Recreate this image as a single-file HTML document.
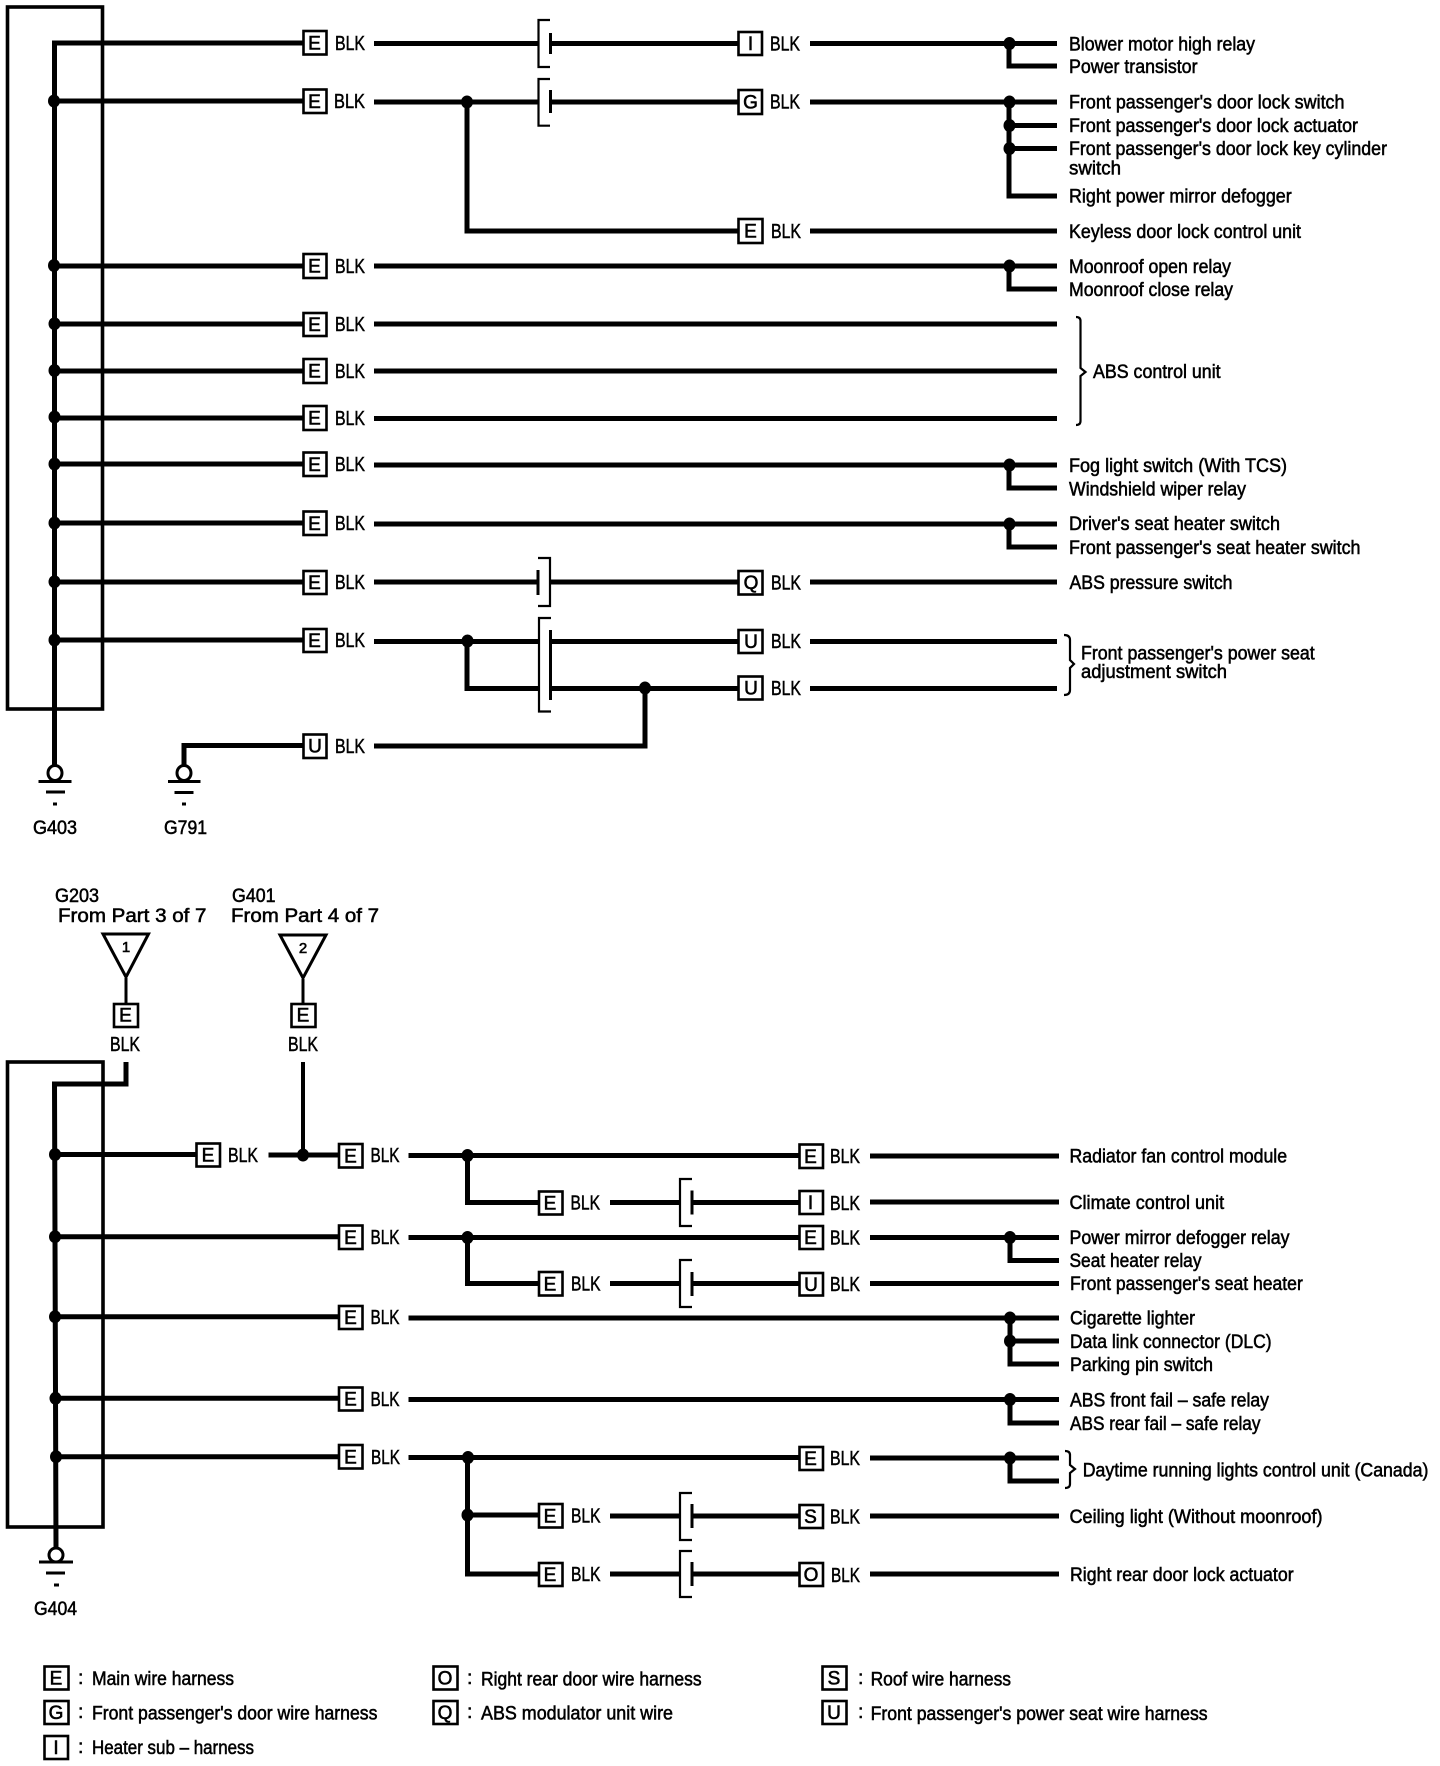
<!DOCTYPE html>
<html><head><meta charset="utf-8"><title>Wiring diagram</title>
<style>
html,body{margin:0;padding:0;background:#fff}
svg{display:block}
text{font-family:"Liberation Sans",sans-serif;fill:#000}
.l{font-size:19.5px;stroke:#000;stroke-width:.55}
.b{font-size:20.5px;stroke:#000;stroke-width:.5}
.c{font-size:19px;text-anchor:middle;stroke:#000;stroke-width:.6}
.w{fill:none;stroke:#000;stroke-width:5}
.t{fill:none;stroke:#000;stroke-width:3}
.e{fill:none;stroke:#000;stroke-width:3.6}
.n{fill:none;stroke:#000;stroke-width:2.2}
.x{fill:#fff;stroke:#000;stroke-width:2.6}
</style></head><body>
<svg xmlns="http://www.w3.org/2000/svg" width="1440" height="1766" viewBox="0 0 1440 1766">
<rect width="1440" height="1766" fill="#fff"/>
<!-- enclosures -->
<rect class="e" x="7.5" y="7" width="95" height="702"/>
<rect class="e" x="7.5" y="1062" width="95.5" height="465"/>
<!-- TOP wires -->
<path class="w" d="M303 43H54.5V765M54.5 101H303M54.5 266H303M54.5 324H303M54.5 371H303M54.5 418H303M54.5 464H303M54.5 523H303M54.5 582H303M54.5 640H303"/>
<path class="w" d="M374 43.5H538M551 43.5H738M810 43.5H1057M1009 43.5V66H1057"/>
<path class="w" d="M374 102H538M551 102H738M810 102H1057M1009 102V196H1057M1009 125.5H1057M1009 148.5H1057M467 102V231H738M810 231H1057"/>
<path class="w" d="M374 266H1057M1009 266V289H1057M374 324H1057M374 371H1057M374 418.5H1057M374 465H1057M1009 465V488H1057M374 524H1057M1009 524V547H1057"/>
<path class="w" d="M374 582H538M551 582H738M810 582H1057"/>
<path class="w" d="M374 641.5H538M551 641.5H738M810 641.5H1057M467 641.5V688.5H538M551 688.5H738M810 688.5H1057M374 746H645V688.5M303 745.5H184V765"/>
<!-- TOP brackets -->
<path class="n" d="M550 20H538.5V67H550M550 79H538.5V125.7H550"/>
<path class="n" d="M538 558H550V606H538M551 618H539V711.5H551"/>
<path class="t" d="M550.5 33V54M550.5 90V113M538 570V595M550.5 630V700"/>
<!-- TOP dots -->
<g fill="#000">
<ellipse cx="54" cy="101" rx="6" ry="6.5"/><ellipse cx="54" cy="265.5" rx="6" ry="6.5"/><ellipse cx="54.5" cy="323.7" rx="6" ry="6.5"/><ellipse cx="54.5" cy="370.5" rx="6" ry="6.5"/><ellipse cx="54.5" cy="417" rx="6" ry="6.5"/><ellipse cx="54.5" cy="464" rx="6" ry="6.5"/><ellipse cx="54.5" cy="523" rx="6" ry="6.5"/><ellipse cx="54.5" cy="581.7" rx="6" ry="6.5"/><ellipse cx="54.5" cy="640" rx="6" ry="6.5"/>
<ellipse cx="467" cy="102" rx="6" ry="6.5"/><ellipse cx="467.5" cy="641" rx="6" ry="6.5"/><ellipse cx="645" cy="688" rx="6" ry="6.5"/>
<ellipse cx="1009.5" cy="43.5" rx="6" ry="6.5"/><ellipse cx="1009.5" cy="102" rx="6" ry="6.5"/><ellipse cx="1009.5" cy="125.5" rx="6" ry="6.5"/><ellipse cx="1009.5" cy="148.5" rx="6" ry="6.5"/><ellipse cx="1009.5" cy="266" rx="6" ry="6.5"/><ellipse cx="1009.5" cy="465" rx="6" ry="6.5"/><ellipse cx="1009.5" cy="524" rx="6" ry="6.5"/>
</g>
<!-- grounds -->
<ellipse class="t" cx="55" cy="773" rx="7" ry="7.5" style="fill:#fff"/>
<path class="t" d="M38.5 781.5H71.5M46 792H65M53 804H57"/>
<ellipse class="t" cx="184" cy="773" rx="7" ry="7.5" style="fill:#fff"/>
<path class="t" d="M168 781.5H200.5M174.5 792.5H193.5M182 804H186"/>
<text class="l" x="33" y="834" textLength="44" lengthAdjust="spacingAndGlyphs">G403</text>
<text class="l" x="164" y="834" textLength="43" lengthAdjust="spacingAndGlyphs">G791</text>
<!-- TOP boxes col A -->
<g>
<rect class="x" x="303.5" y="31" width="23" height="23.5"/><text class="c" x="314.5" y="49.5">E</text><text class="b" x="335" y="50" textLength="30" lengthAdjust="spacingAndGlyphs">BLK</text>
<rect class="x" x="303.5" y="89.5" width="23" height="23.5"/><text class="c" x="314.5" y="108">E</text><text class="b" x="334" y="108" textLength="31" lengthAdjust="spacingAndGlyphs">BLK</text>
<rect class="x" x="303.5" y="254" width="23" height="24"/><text class="c" x="314.5" y="272.5">E</text><text class="b" x="335" y="273" textLength="30" lengthAdjust="spacingAndGlyphs">BLK</text>
<rect class="x" x="303.5" y="313" width="23" height="23"/><text class="c" x="314.5" y="331">E</text><text class="b" x="335" y="331" textLength="30" lengthAdjust="spacingAndGlyphs">BLK</text>
<rect class="x" x="303.5" y="359" width="23" height="24"/><text class="c" x="314.5" y="377.5">E</text><text class="b" x="335" y="378" textLength="30" lengthAdjust="spacingAndGlyphs">BLK</text>
<rect class="x" x="303.5" y="406" width="23" height="24"/><text class="c" x="314.5" y="424.5">E</text><text class="b" x="335" y="425" textLength="30" lengthAdjust="spacingAndGlyphs">BLK</text>
<rect class="x" x="303.5" y="452.5" width="23" height="23.5"/><text class="c" x="314.5" y="471">E</text><text class="b" x="335" y="471" textLength="30" lengthAdjust="spacingAndGlyphs">BLK</text>
<rect class="x" x="303.5" y="511.5" width="23" height="23.5"/><text class="c" x="314.5" y="530">E</text><text class="b" x="335" y="530" textLength="30" lengthAdjust="spacingAndGlyphs">BLK</text>
<rect class="x" x="303.5" y="571" width="23" height="23"/><text class="c" x="314.5" y="589">E</text><text class="b" x="335" y="589" textLength="30" lengthAdjust="spacingAndGlyphs">BLK</text>
<rect class="x" x="303.5" y="629" width="23" height="23"/><text class="c" x="314.5" y="647">E</text><text class="b" x="335" y="647" textLength="30" lengthAdjust="spacingAndGlyphs">BLK</text>
<rect class="x" x="303.5" y="734.5" width="23" height="23.5"/><text class="c" x="315" y="752.5">U</text><text class="b" x="335" y="753" textLength="30" lengthAdjust="spacingAndGlyphs">BLK</text>
</g>
<!-- TOP boxes col B -->
<g>
<rect class="x" x="738.5" y="32" width="23.5" height="23"/><text class="c" x="750.5" y="50">I</text><text class="b" x="770" y="50.5" textLength="30" lengthAdjust="spacingAndGlyphs">BLK</text>
<rect class="x" x="738.5" y="90" width="23.5" height="24"/><text class="c" x="750.5" y="108.5">G</text><text class="b" x="770" y="108.5" textLength="30" lengthAdjust="spacingAndGlyphs">BLK</text>
<rect class="x" x="738.5" y="219" width="24" height="24"/><text class="c" x="750.5" y="237.5">E</text><text class="b" x="771" y="238" textLength="30" lengthAdjust="spacingAndGlyphs">BLK</text>
<rect class="x" x="738.5" y="571" width="24" height="23.5"/><text class="c" x="751" y="589">Q</text><text class="b" x="771" y="589.5" textLength="30" lengthAdjust="spacingAndGlyphs">BLK</text>
<rect class="x" x="738.5" y="630" width="24" height="23"/><text class="c" x="751" y="648">U</text><text class="b" x="771" y="648" textLength="30" lengthAdjust="spacingAndGlyphs">BLK</text>
<rect class="x" x="738.5" y="676.5" width="24" height="23"/><text class="c" x="751" y="694.5">U</text><text class="b" x="771" y="695" textLength="30" lengthAdjust="spacingAndGlyphs">BLK</text>
</g>
<!-- TOP labels -->
<g class="labels">
<text class="l" x="1069" y="50.5" textLength="186" lengthAdjust="spacingAndGlyphs">Blower motor high relay</text>
<text class="l" x="1069" y="73" textLength="128.5" lengthAdjust="spacingAndGlyphs">Power transistor</text>
<text class="l" x="1069" y="108.5" textLength="275.5" lengthAdjust="spacingAndGlyphs">Front passenger's door lock switch</text>
<text class="l" x="1069" y="132" textLength="289" lengthAdjust="spacingAndGlyphs">Front passenger's door lock actuator</text>
<text class="l" x="1069" y="155" textLength="318" lengthAdjust="spacingAndGlyphs">Front passenger's door lock key cylinder</text>
<text class="l" x="1069" y="174.5" textLength="52" lengthAdjust="spacingAndGlyphs">switch</text>
<text class="l" x="1069" y="202.5" textLength="222.7" lengthAdjust="spacingAndGlyphs">Right power mirror defogger</text>
<text class="l" x="1069" y="238" textLength="232" lengthAdjust="spacingAndGlyphs">Keyless door lock control unit</text>
<text class="l" x="1069" y="273" textLength="162" lengthAdjust="spacingAndGlyphs">Moonroof open relay</text>
<text class="l" x="1069" y="296" textLength="164" lengthAdjust="spacingAndGlyphs">Moonroof close relay</text>
<text class="l" x="1093" y="378" textLength="127.6" lengthAdjust="spacingAndGlyphs">ABS control unit</text>
<text class="l" x="1069" y="472" textLength="218" lengthAdjust="spacingAndGlyphs">Fog light switch (With TCS)</text>
<text class="l" x="1069" y="495.5" textLength="177" lengthAdjust="spacingAndGlyphs">Windshield wiper relay</text>
<text class="l" x="1069" y="530" textLength="211" lengthAdjust="spacingAndGlyphs">Driver's seat heater switch</text>
<text class="l" x="1069" y="554" textLength="291.5" lengthAdjust="spacingAndGlyphs">Front passenger's seat heater switch</text>
<text class="l" x="1069.5" y="589" textLength="163" lengthAdjust="spacingAndGlyphs">ABS pressure switch</text>
<text class="l" x="1081" y="659.5" textLength="233.7" lengthAdjust="spacingAndGlyphs">Front passenger's power seat</text>
<text class="l" x="1081" y="678" textLength="146" lengthAdjust="spacingAndGlyphs">adjustment switch</text>
</g>
<!-- braces -->
<path class="n" d="M1076 317Q1080.5 317 1080.5 321V368L1085.5 372L1080.5 376V421Q1080.5 425 1076 425"/>
<path class="n" d="M1064 635Q1070 635 1070 640V660L1074 664L1070 668V690Q1070 695 1064 695"/>
<path class="n" d="M1065 1451Q1070 1451 1070 1455V1465L1075 1469L1070 1473V1484Q1070 1488 1065 1488"/>

<!-- BOTTOM top-section -->
<text class="l" x="55" y="902" textLength="44" lengthAdjust="spacingAndGlyphs">G203</text>
<text class="l" x="58" y="922" textLength="148.5" lengthAdjust="spacingAndGlyphs">From Part 3 of 7</text>
<text class="l" x="232" y="902" textLength="43.5" lengthAdjust="spacingAndGlyphs">G401</text>
<text class="l" x="231" y="922" textLength="148" lengthAdjust="spacingAndGlyphs">From Part 4 of 7</text>
<path class="t" d="M103 934H148.5L126 977ZM280 935H326L303 978Z"/>
<path class="t" d="M126 978V1003M303 979V1003"/>
<text class="c" x="126" y="952" style="font-size:15px">1</text>
<text class="c" x="303" y="953" style="font-size:15px">2</text>
<rect class="x" x="114" y="1004" width="24" height="23"/><text class="c" x="125.5" y="1021.5">E</text>
<rect class="x" x="291.5" y="1004" width="24" height="23"/><text class="c" x="303" y="1021.5">E</text>
<text class="b" x="110" y="1051" textLength="30" lengthAdjust="spacingAndGlyphs">BLK</text>
<text class="b" x="288" y="1051" textLength="30" lengthAdjust="spacingAndGlyphs">BLK</text>
<!-- BOTTOM wires -->
<path class="w" d="M126 1062V1084H54.5L56 1548"/>
<path d="M303 1062V1155" fill="none" stroke="#000" stroke-width="4"/>
<path class="w" d="M55 1154.5H196M268.5 1155H338.5M408.5 1155.5H799M870 1156H1059M467.5 1155.5V1202.5H538.5M610 1202.5H680M692 1202.5H799M870 1202H1059"/>
<path class="w" d="M55 1236.7H338.5M408.5 1237.5H799M870 1237.5H1059M1010 1237.5V1260.5H1059M467.5 1237.5V1283.5H538.5M610 1283.5H680M692 1283.5H799M870 1283.5H1059"/>
<path class="w" d="M55 1316.7H338.5M408.5 1318H1059M1010 1318V1364H1059M1010 1341H1059"/>
<path class="w" d="M55.5 1398.3H338.5M408.5 1399.5H1059M1010 1399.5V1423H1059"/>
<path class="w" d="M55.5 1456.7H338.5M408.5 1457.5H799M870 1458H1059M1010 1458V1481H1059M467.5 1457.5V1574H538.5M467.5 1515H538.5M610 1516H680M692 1516H799M870 1516H1059M610 1574H680M692 1574H799M870 1574H1059"/>
<!-- BOTTOM brackets -->
<path class="n" d="M692 1179H680V1226H692M692 1260H680V1307H692M692 1493H680V1540H692M692 1551H680V1597H692"/>
<path class="t" d="M692 1190.5V1214.5M692 1272V1296M692 1504V1528M692 1562V1586"/>
<!-- BOTTOM dots -->
<g fill="#000">
<ellipse cx="55" cy="1154.5" rx="6" ry="6.5"/><ellipse cx="55" cy="1236.7" rx="6" ry="6.5"/><ellipse cx="55" cy="1316.7" rx="6" ry="6.5"/><ellipse cx="55.5" cy="1398.3" rx="6" ry="6.5"/><ellipse cx="56" cy="1456.7" rx="6" ry="6.5"/>
<ellipse cx="303" cy="1155" rx="6" ry="6.5"/>
<ellipse cx="467.5" cy="1155.5" rx="6" ry="6.5"/><ellipse cx="467.5" cy="1237.5" rx="6" ry="6.5"/><ellipse cx="468" cy="1457.5" rx="6" ry="6.5"/><ellipse cx="467.5" cy="1515" rx="6" ry="6.5"/>
<ellipse cx="1010" cy="1237.5" rx="6" ry="6.5"/><ellipse cx="1010" cy="1318" rx="6" ry="6.5"/><ellipse cx="1010" cy="1341" rx="6" ry="6.5"/><ellipse cx="1010" cy="1399.5" rx="6" ry="6.5"/><ellipse cx="1010" cy="1458" rx="6" ry="6.5"/>
</g>
<ellipse class="t" cx="56" cy="1555" rx="7" ry="7" style="fill:#fff"/>
<path class="t" d="M39 1562H73M46 1573H65M54 1585H59"/>
<text class="l" x="34" y="1615" textLength="43" lengthAdjust="spacingAndGlyphs">G404</text>
<!-- BOTTOM boxes -->
<g>
<rect class="x" x="196.5" y="1143.5" width="23.5" height="23"/><text class="c" x="208" y="1161.5">E</text><text class="b" x="228" y="1162" textLength="30" lengthAdjust="spacingAndGlyphs">BLK</text>
<rect class="x" x="339" y="1144" width="23.5" height="23.5"/><text class="c" x="350.5" y="1162.5">E</text><text class="b" x="370.5" y="1162" textLength="29" lengthAdjust="spacingAndGlyphs">BLK</text>
<rect class="x" x="339" y="1225.5" width="23.5" height="23.5"/><text class="c" x="350.5" y="1244">E</text><text class="b" x="370.5" y="1244" textLength="29" lengthAdjust="spacingAndGlyphs">BLK</text>
<rect class="x" x="339" y="1306" width="23.5" height="23"/><text class="c" x="350.5" y="1324">E</text><text class="b" x="370.5" y="1324" textLength="29" lengthAdjust="spacingAndGlyphs">BLK</text>
<rect class="x" x="339" y="1387.5" width="23.5" height="23"/><text class="c" x="350.5" y="1405.5">E</text><text class="b" x="370.5" y="1406" textLength="29" lengthAdjust="spacingAndGlyphs">BLK</text>
<rect class="x" x="339" y="1445" width="23.5" height="23.5"/><text class="c" x="350.5" y="1463.5">E</text><text class="b" x="371" y="1464" textLength="29" lengthAdjust="spacingAndGlyphs">BLK</text>
<rect class="x" x="539" y="1191.5" width="23.5" height="23"/><text class="c" x="550" y="1209.5">E</text><text class="b" x="570.5" y="1209.5" textLength="29.5" lengthAdjust="spacingAndGlyphs">BLK</text>
<rect class="x" x="539" y="1272" width="23.5" height="23.5"/><text class="c" x="550" y="1290.5">E</text><text class="b" x="571" y="1290.5" textLength="29.5" lengthAdjust="spacingAndGlyphs">BLK</text>
<rect class="x" x="539" y="1504" width="23.5" height="23.5"/><text class="c" x="550" y="1522.5">E</text><text class="b" x="571" y="1522.5" textLength="29.5" lengthAdjust="spacingAndGlyphs">BLK</text>
<rect class="x" x="539" y="1563" width="23.5" height="23"/><text class="c" x="550" y="1581">E</text><text class="b" x="571" y="1581" textLength="29.5" lengthAdjust="spacingAndGlyphs">BLK</text>
<rect class="x" x="799.5" y="1144.5" width="23.5" height="23.5"/><text class="c" x="810.5" y="1163">E</text><text class="b" x="830" y="1163" textLength="30" lengthAdjust="spacingAndGlyphs">BLK</text>
<rect class="x" x="799.5" y="1191" width="23.5" height="23"/><text class="c" x="810.5" y="1209">I</text><text class="b" x="830" y="1210" textLength="30" lengthAdjust="spacingAndGlyphs">BLK</text>
<rect class="x" x="799.5" y="1226" width="23.5" height="23"/><text class="c" x="810.5" y="1244">E</text><text class="b" x="830" y="1244.5" textLength="30" lengthAdjust="spacingAndGlyphs">BLK</text>
<rect class="x" x="799.5" y="1273" width="23.5" height="22.5"/><text class="c" x="811" y="1291">U</text><text class="b" x="830" y="1291" textLength="30" lengthAdjust="spacingAndGlyphs">BLK</text>
<rect class="x" x="799.5" y="1447" width="23.5" height="23"/><text class="c" x="810.5" y="1465">E</text><text class="b" x="830" y="1465" textLength="30" lengthAdjust="spacingAndGlyphs">BLK</text>
<rect class="x" x="799.5" y="1505" width="23.5" height="23"/><text class="c" x="810.5" y="1523">S</text><text class="b" x="830" y="1523.5" textLength="30" lengthAdjust="spacingAndGlyphs">BLK</text>
<rect class="x" x="799.5" y="1563" width="23.5" height="23"/><text class="c" x="811" y="1581">O</text><text class="b" x="831" y="1582" textLength="29" lengthAdjust="spacingAndGlyphs">BLK</text>
</g>
<!-- BOTTOM labels -->
<g>
<text class="l" x="1069.5" y="1162.5" textLength="217.6" lengthAdjust="spacingAndGlyphs">Radiator fan control module</text>
<text class="l" x="1069.5" y="1209" textLength="154.6" lengthAdjust="spacingAndGlyphs">Climate control unit</text>
<text class="l" x="1069.5" y="1244" textLength="220" lengthAdjust="spacingAndGlyphs">Power mirror defogger relay</text>
<text class="l" x="1069.5" y="1267" textLength="132" lengthAdjust="spacingAndGlyphs">Seat heater relay</text>
<text class="l" x="1070" y="1290" textLength="232.8" lengthAdjust="spacingAndGlyphs">Front passenger's seat heater</text>
<text class="l" x="1070" y="1324.5" textLength="125" lengthAdjust="spacingAndGlyphs">Cigarette lighter</text>
<text class="l" x="1070" y="1348" textLength="201.6" lengthAdjust="spacingAndGlyphs">Data link connector (DLC)</text>
<text class="l" x="1070" y="1371" textLength="143" lengthAdjust="spacingAndGlyphs">Parking pin switch</text>
<text class="l" x="1070" y="1406.5" textLength="199" lengthAdjust="spacingAndGlyphs">ABS front fail – safe relay</text>
<text class="l" x="1070" y="1430" textLength="190.5" lengthAdjust="spacingAndGlyphs">ABS rear fail – safe relay</text>
<text class="l" x="1082.7" y="1476.5" textLength="345.7" lengthAdjust="spacingAndGlyphs">Daytime running lights control unit (Canada)</text>
<text class="l" x="1069.5" y="1523" textLength="253" lengthAdjust="spacingAndGlyphs">Ceiling light (Without moonroof)</text>
<text class="l" x="1070" y="1581" textLength="223.6" lengthAdjust="spacingAndGlyphs">Right rear door lock actuator</text>
</g>
<!-- legend -->
<g>
<rect class="x" x="44.5" y="1666.5" width="24" height="23"/><text class="c" x="56" y="1684.5">E</text>
<rect class="x" x="44.5" y="1701" width="24" height="23"/><text class="c" x="56" y="1719">G</text>
<rect class="x" x="44.5" y="1736" width="23.5" height="23"/><text class="c" x="56" y="1754">I</text>
<text class="l" x="78" y="1684">:</text><text class="l" x="78" y="1718">:</text><text class="l" x="78" y="1753">:</text>
<text class="l" x="92" y="1685" textLength="142" lengthAdjust="spacingAndGlyphs">Main wire harness</text>
<text class="l" x="92" y="1719.5" textLength="285.4" lengthAdjust="spacingAndGlyphs">Front passenger's door wire harness</text>
<text class="l" x="92" y="1754" textLength="162" lengthAdjust="spacingAndGlyphs">Heater sub – harness</text>
<rect class="x" x="433.5" y="1666.5" width="24" height="23"/><text class="c" x="445" y="1684.5">O</text>
<rect class="x" x="433.5" y="1701" width="24" height="23"/><text class="c" x="445" y="1719">Q</text>
<text class="l" x="467" y="1684">:</text><text class="l" x="467" y="1718">:</text>
<text class="l" x="481" y="1685.5" textLength="220.6" lengthAdjust="spacingAndGlyphs">Right rear door wire harness</text>
<text class="l" x="481" y="1719.5" textLength="192" lengthAdjust="spacingAndGlyphs">ABS modulator unit wire</text>
<rect class="x" x="822.5" y="1666.5" width="24" height="23"/><text class="c" x="834" y="1684.5">S</text>
<rect class="x" x="822.5" y="1701" width="24" height="23"/><text class="c" x="834" y="1719">U</text>
<text class="l" x="858" y="1684">:</text><text class="l" x="858" y="1718">:</text>
<text class="l" x="870.6" y="1685.5" textLength="140.4" lengthAdjust="spacingAndGlyphs">Roof wire harness</text>
<text class="l" x="870.6" y="1720" textLength="337" lengthAdjust="spacingAndGlyphs">Front passenger's power seat wire harness</text>
</g>
</svg>
</body></html>
